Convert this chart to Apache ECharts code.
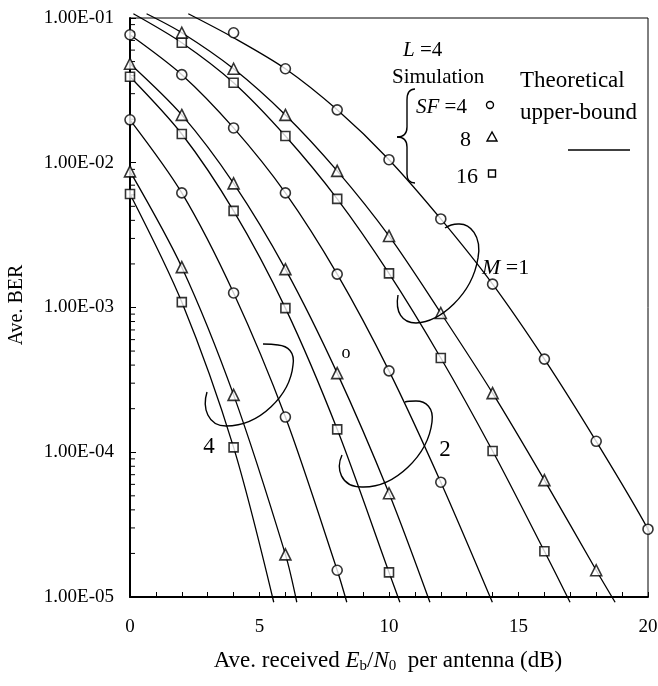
<!DOCTYPE html>
<html>
<head>
<meta charset="utf-8">
<script src="https://cdn.jsdelivr.net/npm/echarts@6/dist/echarts.min.js"></script>
<style>
html, body { margin: 0; padding: 0; background: #fff; }
#chart { width: 658px; height: 686px; }
</style>
</head>
<body>
<div id="chart"></div>
<script>
// ---
// data (BER vs Eb/N0, L=4)
// ---
var snrSim = [0, 2, 4, 6, 8, 10, 12, 14, 16, 18, 20];

// simulation, M=1
var simM1SF4  = [null, null, 0.0791, 0.0446, 0.0232, 0.0105, 0.00409, 0.00145, 0.00044, 0.000119, 2.94e-5];
var simM1SF8  = [null, 0.0791, 0.0446, 0.0214, 0.00879, 0.00312, 0.000916, 0.000256, 6.42e-5, 1.53e-5, null];
var simM1SF16 = [null, 0.0675, 0.0357, 0.0153, 0.00563, 0.00172, 0.000448, 0.000102, 2.07e-5, null, null];
// simulation, M=2
var simM2SF4  = [0.0766, 0.0406, 0.0174, 0.00619, 0.0017, 0.000365, 6.21e-5, null, null, null, null];
var simM2SF8  = [0.0483, 0.0214, 0.0072, 0.00184, 0.000352, 5.21e-5, null, null, null, null, null];
var simM2SF16 = [0.0393, 0.0158, 0.00465, 0.00099, 0.000144, 1.48e-5, null, null, null, null, null];
// simulation, M=4
var simM4SF4  = [0.0198, 0.00619, 0.00126, 0.000175, 1.53e-5, null, null, null, null, null, null];
var simM4SF8  = [0.00872, 0.0019, 0.000249, 1.97e-5, null, null, null, null, null, null, null];
var simM4SF16 = [0.00609, 0.00109, 0.000108, null, null, null, null, null, null, null, null];

// theoretical upper-bound, [dB, BER]
var thM1SF4  = [[2.25, 0.107], [4, 0.0731], [6, 0.0446], [8, 0.0232], [10, 0.0105], [12, 0.00409], [14, 0.00145], [16, 0.00044], [18, 0.000119], [20, 2.94e-5], [20.27, 2.1e-5]];
var thM1SF8  = [[0.64, 0.107], [2, 0.0791], [4, 0.0446], [6, 0.0214], [8, 0.00879], [10, 0.00312], [12, 0.000916], [14, 0.000256], [16, 6.42e-5], [18, 1.53e-5], [18.73, 9.2e-6]];
var thM1SF16 = [[0.13, 0.107], [2, 0.0675], [4, 0.0357], [6, 0.0153], [8, 0.00563], [10, 0.00172], [12, 0.000448], [14, 0.000102], [16, 2.07e-5], [16.99, 9.2e-6]];
var thM2SF4  = [[0, 0.0766], [2, 0.0406], [4, 0.0174], [6, 0.00619], [8, 0.0017], [10, 0.000365], [12, 6.21e-5], [13.99, 9.2e-6]];
var thM2SF8  = [[0, 0.0483], [2, 0.0214], [4, 0.0072], [6, 0.00184], [8, 0.000352], [10, 5.21e-5], [11.58, 9.2e-6]];
var thM2SF16 = [[0, 0.0393], [2, 0.0158], [4, 0.00465], [6, 0.00099], [8, 0.000144], [10, 1.48e-5], [10.42, 9.2e-6]];
var thM4SF4  = [[0, 0.0198], [2, 0.00619], [4, 0.00126], [6, 0.000175], [8, 1.53e-5], [8.37, 9.2e-6]];
var thM4SF8  = [[0, 0.00872], [2, 0.0019], [4, 0.000249], [6, 1.97e-5], [6.44, 9.2e-6]];
var thM4SF16 = [[0, 0.00609], [2, 0.00109], [4, 0.000108], [5.55, 9.2e-6]];

// axis ticks
var xTicks = [0, 5, 10, 15, 20];
var yDecades = [1e-5, 1e-4, 1e-3, 1e-2];
var yMinorSteps = [2, 3, 4, 5, 6, 7, 8, 9];

var SERIF = 'Liberation Serif';


// ///////////////////////////////////////////
// helpers
function toPairs(vals) {
    var out = [];
    for (var i = 0; i < snrSim.length; i++) {
        if (vals[i] !== null) {
            out.push([snrSim[i], vals[i]]);
        }
    }
    return out;
}

function lineSeries(data) {
    return {
        type: 'line',
        data: data,
        smooth: 0.3,
        symbol: 'none',
        clip: false,
        silent: true,
        z: 2,
        lineStyle: {color: '#000', width: 1.3}
    };
}

function simSeries(groups, symbol, size) {
    var data = [];
    groups.forEach(function (g) {
        data = data.concat(toPairs(g));
    });
    return {
        type: 'scatter',
        data: data,
        symbol: symbol,
        symbolSize: size,
        silent: true,
        z: 3,
        itemStyle: {color: '#fff', borderColor: '#000', borderWidth: 1.6}
    };
}

function txt(x, y, text, size, align, rich) {
    return {
        type: 'text',
        x: x,
        y: y,
        z: 10,
        style: {
            text: text,
            fontFamily: SERIF,
            fontSize: size,
            fill: '#000',
            align: align || 'left',
            textAlign: align || 'left',
            verticalAlign: 'middle',
            textVerticalAlign: 'middle',
            rich: rich
        }
    };
}

function it(size) {
    return {fontFamily: SERIF, fontSize: size, fontStyle: 'italic', fill: '#000'};
}
function rm(size) {
    return {fontFamily: SERIF, fontSize: size, fill: '#000'};
}

function bez(segs) {
    return segs.map(function (s) {
        return {
            type: 'bezierCurve',
            z: 10,
            shape: {x1: s[0], y1: s[1], cpx1: s[2], cpy1: s[3], cpx2: s[4], cpy2: s[5], x2: s[6], y2: s[7]},
            style: {stroke: '#000', lineWidth: 1.4, fill: null}
        };
    });
}

var minorTickData = [];
yDecades.forEach(function (d) {
    yMinorSteps.forEach(function (m) {
        minorTickData.push([0, d * m]);
    });
});


// ///////////////////////////////////////////
// annotations (legend, loops, labels)
var graphics = [];

graphics.push(txt(403, 50, '{i|L}{n| =4}', 21, 'left', {i: it(21), n: rm(21)}));
graphics.push(txt(392, 77, 'Simulation', 21));
graphics.push(txt(416, 107, '{i|SF}{n| =4}', 21, 'left', {i: it(21), n: rm(21)}));
graphics.push(txt(471, 140, '8', 22, 'right'));
graphics.push(txt(478, 177, '16', 22, 'right'));
graphics.push(txt(520, 81, 'Theoretical', 23));
graphics.push(txt(520, 113, 'upper-bound', 23));
graphics.push(txt(482, 268, '{i|M}{n| =1}', 22, 'left', {i: it(22), n: rm(22)}));
graphics.push(txt(445, 450, '2', 23, 'center'));
graphics.push(txt(209, 447, '4', 23, 'center'));
graphics.push(txt(346, 353, 'o', 18, 'center'));

// legend symbols
graphics.push({type: 'circle', z: 10, shape: {cx: 490, cy: 105, r: 3.5},
    style: {fill: '#fff', stroke: '#000', lineWidth: 1.4}});
graphics.push({type: 'polygon', z: 10, shape: {points: [[492, 132], [487, 141], [497, 141]]},
    style: {fill: '#fff', stroke: '#000', lineWidth: 1.4}});
graphics.push({type: 'rect', z: 10, shape: {x: 488.5, y: 170, width: 7, height: 7},
    style: {fill: '#fff', stroke: '#000', lineWidth: 1.4}});
graphics.push({type: 'line', z: 10, shape: {x1: 568, y1: 150, x2: 630, y2: 150},
    style: {stroke: '#000', lineWidth: 1.4}});

// brace
graphics = graphics.concat(bez([
    [415, 89, 409, 89, 407, 93, 407, 100],
    [407, 100, 407, 110, 407, 118, 407, 127],
    [407, 127, 407, 133, 404, 137, 397, 137],
    [397, 137, 404, 137, 407, 141, 407, 147],
    [407, 147, 407, 156, 407, 165, 407, 174],
    [407, 174, 407, 180, 409, 183, 415, 183]
]));

// M=1 loop
graphics = graphics.concat(bez([
    [398, 295, 395, 312, 402, 323, 416, 323],
    [416, 323, 440, 322, 472, 295, 478, 258],
    [478, 258, 482, 236, 470, 223, 458, 224],
    [458, 224, 452, 224, 448, 226, 445, 228]
]));
// M=2 loop
graphics = graphics.concat(bez([
    [342, 455, 336, 468, 340, 487, 362, 487],
    [362, 487, 395, 488, 428, 455, 432, 422],
    [432, 422, 434, 408, 426, 401, 416, 401],
    [416, 401, 411, 401, 408, 401, 405, 402]
]));
// M=4 loop
graphics = graphics.concat(bez([
    [207, 392, 202, 408, 208, 426, 226, 426],
    [226, 426, 260, 426, 290, 395, 293, 365],
    [293, 365, 295, 352, 288, 346, 278, 345],
    [278, 345, 272, 344, 267, 344, 263, 344]
]));

// axis titles
graphics.push({
    type: 'text', x: 17, y: 305, rotation: Math.PI / 2, z: 10,
    style: {text: 'Ave. BER', fontFamily: SERIF, fontSize: 20, fill: '#000',
        align: 'center', textAlign: 'center', verticalAlign: 'middle', textVerticalAlign: 'middle'}
});
graphics.push(txt(388, 661,
    '{n|Ave. received }{i|E}{s|b}{n|/}{i|N}{s|0}{n|  per antenna (dB)}', 23, 'center', {
        n: {fontFamily: SERIF, fontSize: 23, fill: '#000', lineHeight: 26},
        i: {fontFamily: SERIF, fontSize: 23, fontStyle: 'italic', fill: '#000', lineHeight: 26},
        s: {fontFamily: SERIF, fontSize: 15, fill: '#000', lineHeight: 16, verticalAlign: 'bottom'}
    }));


// ///////////////////////////////////////////
// chart
var chart = echarts.init(document.getElementById('chart'), null, {renderer: 'canvas'});

chart.setOption({
    animation: false,
    backgroundColor: '#fff',
    grid: {
        left: 130, right: 10, top: 18, bottom: 89,
        show: true, borderColor: '#000', borderWidth: 1,
        containLabel: false, outerBoundsMode: 'none'
    },
    xAxis: {
        type: 'value',
        min: xTicks[0],
        max: xTicks[xTicks.length - 1],
        interval: 5,
        splitLine: {show: false},
        axisLine: {lineStyle: {color: '#000', width: 2}},
        axisTick: {inside: true, length: 5, lineStyle: {color: '#000', width: 1}},
        minorTick: {show: true, splitNumber: 5, length: 5, lineStyle: {color: '#000', width: 1}},
        axisLabel: {color: '#000', fontFamily: SERIF, fontSize: 19, margin: 21}
    },
    yAxis: {
        type: 'log',
        logBase: 10,
        min: 1e-5,
        max: 1e-1,
        splitLine: {show: false},
        axisLine: {lineStyle: {color: '#000', width: 2}},
        axisTick: {inside: true, length: 6, lineStyle: {color: '#000', width: 1}},
        axisLabel: {
            color: '#000', fontFamily: SERIF, fontSize: 19, margin: 16,
            formatter: function (v) {
                var e = Math.round(Math.log(v) / Math.LN10);
                var a = Math.abs(e);
                return '1.00E' + (e < 0 ? '-' : '+') + (a < 10 ? '0' + a : a);
            }
        }
    },
    graphic: graphics,
    series: [
        lineSeries(thM1SF4), lineSeries(thM1SF8), lineSeries(thM1SF16),
        lineSeries(thM2SF4), lineSeries(thM2SF8), lineSeries(thM2SF16),
        lineSeries(thM4SF4), lineSeries(thM4SF8), lineSeries(thM4SF16),
        simSeries([simM1SF4, simM2SF4, simM4SF4], 'circle', 10),
        simSeries([simM1SF8, simM2SF8, simM4SF8], 'triangle', 11),
        simSeries([simM1SF16, simM2SF16, simM4SF16], 'rect', 9),
        {
            // y minor ticks at 2..9 of each decade
            type: 'custom',
            data: minorTickData,
            silent: true,
            z: 1,
            renderItem: function (params, api) {
                var p = api.coord([api.value(0), api.value(1)]);
                return {
                    type: 'line',
                    shape: {x1: p[0], y1: p[1], x2: p[0] + 5, y2: p[1]},
                    style: {stroke: '#000', lineWidth: 1}
                };
            }
        }
    ]
});
</script>
</body>
</html>
